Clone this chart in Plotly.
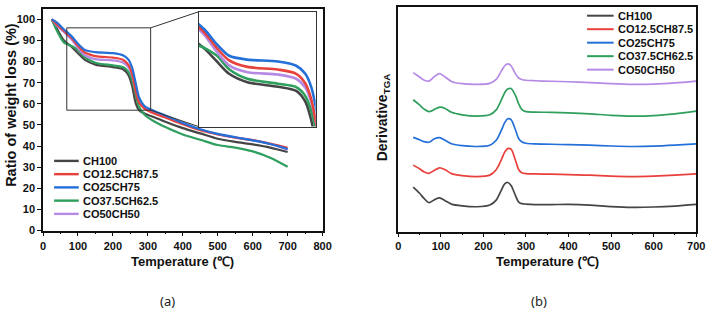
import plotly.graph_objects as go

W, H = 718, 318

# ---------------- data: (a) TGA ----------------
tga_temp = [25, 40, 60, 80, 100, 120, 150, 200, 230, 245, 255, 265, 275, 290, 320, 350, 400, 450, 500, 550, 600, 650, 700]
tga_ch100 = [100, 95.5, 90, 87.3, 84, 80.8, 78.6, 77.4, 76.3, 73.5, 68.5, 60.5, 57, 55.5, 53.5, 51.5, 48.5, 46, 43.5, 42, 40.8, 39.3, 37.2]
tga_co125 = [100, 97.5, 94.5, 91.5, 87.5, 84.3, 82.6, 81.9, 80.8, 78.3, 74, 66, 60.5, 57.8, 55.3, 53.5, 50.3, 47.5, 45.5, 44, 42.8, 41.2, 39.2]
tga_co25 = [100, 98.5, 95.2, 92.3, 88.5, 85.5, 84.5, 84, 82.9, 80.8, 77.2, 70, 63, 59, 56.5, 54.5, 51, 48, 45.8, 44.2, 42.7, 41, 38.6]
tga_co375 = [100, 94.5, 89, 87.5, 85.5, 82, 79.5, 78.2, 77.3, 75, 71, 64.5, 58.5, 55, 51.5, 49, 45.5, 43, 40.5, 39.3, 37.5, 34.5, 30.2]
tga_co50 = [100, 97, 94, 90.8, 86.5, 83, 81.2, 80.6, 79.5, 77.2, 73.3, 66.5, 61.5, 58.5, 56, 54, 50.8, 47.8, 45.6, 44.1, 42.8, 41, 38.3]

# ---------------- data: (b) DTG (arbitrary units, stacked) ----------------
dtg_temp = [35, 50, 60, 72, 85, 97, 110, 125, 150, 185, 215, 230, 242, 250, 257, 265, 275, 283, 290, 300, 320, 360, 400, 450, 500, 550, 600, 650, 700]
dtg_ch100 = [45.3, 39, 34, 29.5, 32.5, 34.3, 31.5, 28, 26.2, 25.3, 27, 32, 42, 48.5, 50, 47, 37, 30, 28.5, 28, 27.5, 27.5, 27.7, 27, 25.5, 24.7, 25, 26, 27.7]
dtg_co125 = [67.7, 64, 61, 59.3, 62.5, 65, 63, 59, 57, 56, 57.5, 63, 73, 81, 84.5, 84, 73, 63, 60, 59, 58.7, 58.5, 58, 57.5, 56.5, 56, 56.5, 57.5, 58.7]
dtg_co25 = [96, 93.5, 91.7, 91, 94.5, 95.7, 93, 89.5, 87.5, 86.7, 88, 93, 103, 111, 115, 114, 104, 94.5, 91.5, 90, 89.3, 89, 88.5, 88, 87.2, 86.7, 87, 88, 89.3]
dtg_co375 = [134.3, 129, 125, 122.2, 124.5, 126.8, 125.5, 121.5, 119, 117.7, 119, 124, 134, 141.5, 145.2, 145.7, 139, 130, 124.5, 122.2, 121.7, 121.5, 121, 120, 118.5, 117.7, 118.2, 120, 122.7]
dtg_co50 = [162, 157.5, 154.5, 153.3, 158, 161, 157.5, 153, 150.7, 150, 151, 155, 163.5, 169, 171, 169, 161, 156.5, 155, 154.2, 153.7, 153.2, 152.7, 151.8, 150.7, 150, 150.3, 151.5, 153.3]

names = ["CH100", "CO12.5CH87.5", "CO25CH75", "CO37.5CH62.5", "CO50CH50"]
colors = ["#454545", "#e8413c", "#2470d8", "#2e9f5c", "#b68ae4"]
tga_series = [tga_ch100, tga_co125, tga_co25, tga_co375, tga_co50]
dtg_series = [dtg_ch100, dtg_co125, dtg_co25, dtg_co375, dtg_co50]

# axis ranges
TGA_X = [0, 800]
TGA_Y = [0, 105]
DTG_X = [0, 700]
DTG_Y = [0, 229]
INSET_X = [70, 262]
INSET_Y = [67, 97]
ZOOM_X = [68, 308]
ZOOM_Y = [57, 96]

def px(x):
    return x / W

def py(y):
    return 1 - y / H

# domains (pixel layout)
dom_a_x = [px(40.7), px(325)]
dom_a_y = [py(235), py(9)]
dom_b_x = [px(402), px(705)]
dom_b_y = [py(236), py(7)]
dom_i_x = [px(199), px(318)]
dom_i_y = [py(129), py(12)]

FONT = "Liberation Sans"

fig = go.Figure()

draw_order = [0, 3, 4, 1, 2]
for i in draw_order:
    fig.add_trace(go.Scatter(x=tga_temp, y=tga_series[i], mode="lines", name=names[i],
                             line=dict(color=colors[i], width=2.2, shape="spline", smoothing=0.8),
                             xaxis="x", yaxis="y", showlegend=False))
for i in draw_order:
    fig.add_trace(go.Scatter(x=tga_temp, y=tga_series[i], mode="lines", name=names[i],
                             line=dict(color=colors[i], width=2.6, shape="spline", smoothing=0.8),
                             xaxis="x3", yaxis="y3", showlegend=False))
for i in range(5):
    fig.add_trace(go.Scatter(x=dtg_temp, y=dtg_series[i], mode="lines", name=names[i],
                             line=dict(color=colors[i], width=1.7, shape="spline", smoothing=0.8),
                             xaxis="x2", yaxis="y2", showlegend=False))

tickfont = dict(family=FONT, size=11, color="#111", weight="bold")
common_x = dict(showline=True, linecolor="#111", linewidth=1.5, mirror=True, ticks="outside",
                ticklen=4, tickwidth=1.2, tickcolor="#111", showgrid=False, zeroline=False,
                dtick=100, tick0=0, tickfont=tickfont,
                minor=dict(ticks="outside", ticklen=2, dtick=50, tickcolor="#111", showgrid=False))

fig.update_layout(
    width=W, height=H, margin=dict(l=0, r=0, t=0, b=0),
    paper_bgcolor="white", plot_bgcolor="white", showlegend=False,
    font=dict(family=FONT),
    xaxis=dict(domain=dom_a_x, range=TGA_X, anchor="y", **common_x),
    yaxis=dict(domain=dom_a_y, range=TGA_Y, anchor="x", showline=True, linecolor="#111", linewidth=1.5,
               mirror=True, ticks="outside", ticklen=4, tickwidth=1.2, tickcolor="#111", dtick=10, tick0=0,
               showgrid=False, zeroline=False, tickfont=tickfont),
    xaxis2=dict(domain=dom_b_x, range=DTG_X, anchor="y2", **common_x),
    yaxis2=dict(domain=dom_b_y, range=DTG_Y, anchor="x2", showline=True, linecolor="#111", linewidth=1.5,
                mirror=True, ticks="", showticklabels=False, showgrid=False, zeroline=False),
    xaxis3=dict(domain=dom_i_x, range=INSET_X, anchor="y3", showline=True, linecolor="#333", linewidth=1,
                mirror=True, ticks="", showticklabels=False, showgrid=False, zeroline=False),
    yaxis3=dict(domain=dom_i_y, range=INSET_Y, anchor="x3", showline=True, linecolor="#333", linewidth=1,
                mirror=True, ticks="", showticklabels=False, showgrid=False, zeroline=False),
)

# zoom rectangle on main TGA axes
fig.add_shape(type="rect", xref="x", yref="y", x0=ZOOM_X[0], x1=ZOOM_X[1], y0=ZOOM_Y[0], y1=ZOOM_Y[1],
              line=dict(color="#333", width=1), fillcolor="rgba(0,0,0,0)")

def a_to_paper(xv, yv):
    fx = dom_a_x[0] + (xv - TGA_X[0]) / (TGA_X[1] - TGA_X[0]) * (dom_a_x[1] - dom_a_x[0])
    fy = dom_a_y[0] + (yv - TGA_Y[0]) / (TGA_Y[1] - TGA_Y[0]) * (dom_a_y[1] - dom_a_y[0])
    return fx, fy

tr = a_to_paper(ZOOM_X[1], ZOOM_Y[1])
br = a_to_paper(ZOOM_X[1], ZOOM_Y[0])
fig.add_shape(type="line", xref="paper", yref="paper", x0=tr[0], y0=tr[1], x1=dom_i_x[0], y1=dom_i_y[1],
              line=dict(color="#333", width=1))
fig.add_shape(type="line", xref="paper", yref="paper", x0=br[0], y0=br[1], x1=dom_i_x[0], y1=dom_i_y[0],
              line=dict(color="#333", width=1))

# manual legends
leg_font = dict(family=FONT, size=11, color="#111", weight="bold")
def add_legend(x_line0, x_line1, x_text, y0, dy, width):
    for k in range(5):
        yk = y0 + k * dy
        fig.add_shape(type="line", xref="paper", yref="paper", x0=px(x_line0), x1=px(x_line1),
                      y0=py(yk), y1=py(yk), line=dict(color=colors[k], width=width))
        fig.add_annotation(x=px(x_text), y=py(yk), xref="paper", yref="paper", text=names[k],
                           showarrow=False, xanchor="left", yanchor="middle", font=leg_font)

add_legend(52, 77, 79, 164, 13.5, 2.4)
add_legend(594, 621, 623, 16, 13.75, 2)

title_font = dict(family=FONT, size=13, color="#111", weight="bold")
fig.add_annotation(x=px(183), y=py(267), xref="paper", yref="paper", text="Temperature (℃)",
                   showarrow=False, font=title_font, xanchor="center", yanchor="middle")
fig.add_annotation(x=px(554), y=py(267), xref="paper", yref="paper", text="Temperature (℃)",
                   showarrow=False, font=title_font, xanchor="center", yanchor="middle")
fig.add_annotation(x=px(8.5), y=py(106.5), xref="paper", yref="paper", text="Ratio of weight loss (%)",
                   showarrow=False, textangle=-90, xanchor="center", yanchor="middle",
                   font=dict(family=FONT, size=14.5, color="#111", weight="bold"))
fig.add_annotation(x=px(386), y=py(120), xref="paper", yref="paper", text="Derivative<sub>TGA</sub>",
                   showarrow=False, textangle=-90, xanchor="center", yanchor="middle",
                   font=dict(family=FONT, size=14, color="#111", weight="bold"))

sub_font = dict(family="Noto Sans", size=13, color="#222")
fig.add_annotation(x=px(167), y=py(307), xref="paper", yref="paper", text="(a)", showarrow=False,
                   font=sub_font, xanchor="center", yanchor="middle")
fig.add_annotation(x=px(545), y=py(307), xref="paper", yref="paper", text="(b)", showarrow=False,
                   font=sub_font, xanchor="center", yanchor="middle")

fig.write_html("out.html")
